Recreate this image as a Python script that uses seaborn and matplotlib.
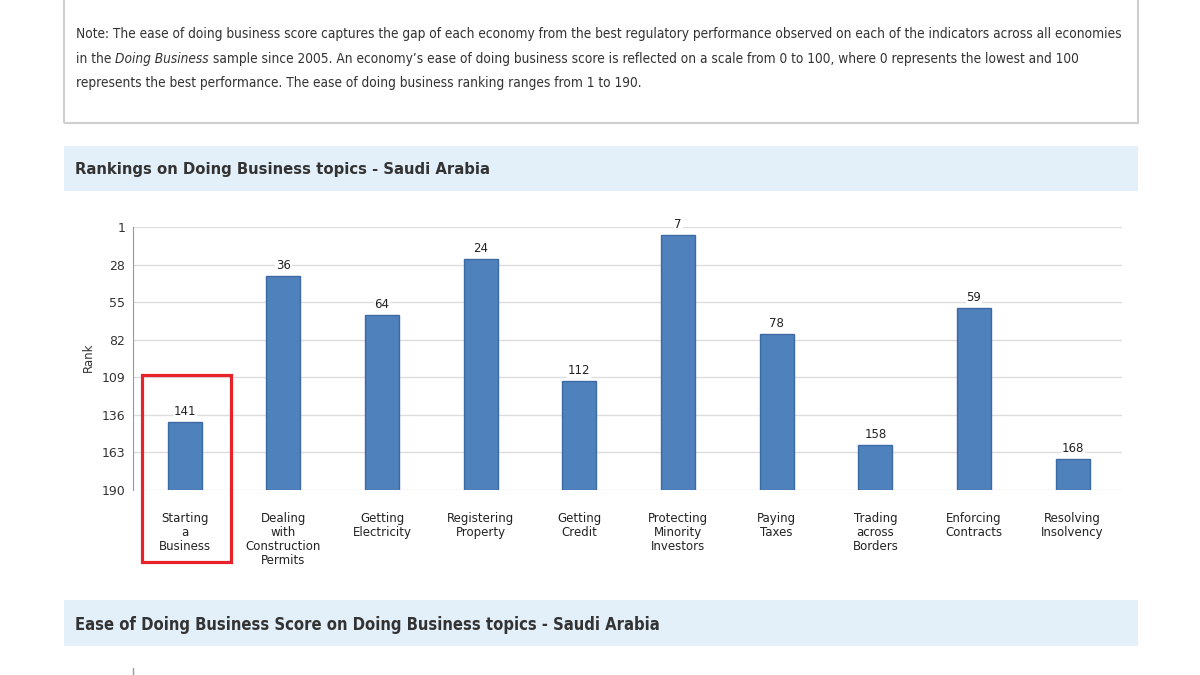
import numpy as np
import pandas as pd
import matplotlib.pyplot as plt
import seaborn as sns
from matplotlib.patches import Rectangle
from matplotlib.lines import Line2D

# datos
topics = ["Starting\na\nBusiness", "Dealing\nwith\nConstruction\nPermits",
          "Getting\nElectricity", "Registering\nProperty", "Getting\nCredit",
          "Protecting\nMinority\nInvestors", "Paying\nTaxes",
          "Trading\nacross\nBorders", "Enforcing\nContracts",
          "Resolving\nInsolvency"]
ranks = [141, 36, 64, 24, 112, 7, 78, 158, 59, 168]
rank_ticks = [1, 28, 55, 82, 109, 136, 163, 190]
worst_rank = 190

note_lines = [
    "Note: The ease of doing business score captures the gap of each economy from the best "
    "regulatory performance observed on each of the indicators across all economies",
    ("in the ", "Doing Business",
     " sample since 2005. An economy\u2019s ease of doing business score is reflected on a "
     "scale from 0 to 100, where 0 represents the lowest and 100"),
    "represents the best performance. The ease of doing business ranking ranges from 1 to 190.",
]
title_1 = "Rankings on Doing Business topics - Saudi Arabia"
title_2 = "Ease of Doing Business Score on Doing Business topics - Saudi Arabia"

W, H = 1200, 675


def fx(x):
    return x / W


def fy(y):
    return 1 - y / H


sns.set_style("white")
plt.rcParams['font.family'] = ['DejaVu Sans']

fig = plt.figure(figsize=(12, 6.75), dpi=100)
renderer = fig.canvas.get_renderer()


def fit(txt, width_px):
    bb = txt.get_window_extent(renderer)
    txt.set_fontsize(txt.get_fontsize() * width_px / bb.width)


# caja de la nota
fig.add_artist(Rectangle((fx(64), fy(123)), fx(1138 - 64), 130 / H,
                         transform=fig.transFigure, fill=False,
                         edgecolor="#cfcfcf", lw=1.5))

note_kw = dict(color="#333333", va="center", fontstretch="condensed")
t1 = fig.text(fx(76), fy(34), note_lines[0], fontsize=10, **note_kw)
fit(t1, 1049)
fs = t1.get_fontsize()
a = fig.text(fx(76), fy(59), note_lines[1][0], fontsize=fs, **note_kw)
x1 = a.get_window_extent(renderer).x1
b = fig.text(x1 / W, fy(59), note_lines[1][1], fontsize=fs, style="italic", **note_kw)
x2 = b.get_window_extent(renderer).x1
fig.text(x2 / W, fy(59), note_lines[1][2], fontsize=fs, **note_kw)
fig.text(fx(76), fy(83), note_lines[2], fontsize=fs, **note_kw)

# cabeceras
for top, bottom, title, wpx in [(146, 191, title_1, 413), (600, 646, title_2, 583)]:
    fig.add_artist(Rectangle((fx(64), fy(bottom)), fx(1138 - 64), (bottom - top) / H,
                             transform=fig.transFigure, facecolor="#e3f0fa",
                             edgecolor="none"))
    t = fig.text(fx(75), fy((top + bottom) / 2 + 1.5), title, fontsize=12,
                 fontweight="bold", fontstretch="condensed", color="#333333",
                 va="center")
    fit(t, wpx)

fig.add_artist(Line2D([fx(133), fx(133)], [fy(668), fy(675)],
                      transform=fig.transFigure, color="#999999", lw=1))

# grafico de barras
ax = fig.add_axes([fx(133), fy(490), fx(1122 - 133), (490 - 227) / H])
df = pd.DataFrame({"topic": topics, "rank": ranks})
df["bar"] = worst_rank - df["rank"]

sns.barplot(data=df, x="topic", y="bar", ax=ax, color="#4f81bd",
            saturation=1, width=0.345, edgecolor="#3c6aa3", linewidth=1)

ax.bar_label(ax.containers[0], labels=[str(r) for r in ranks], padding=3,
             fontsize=8.5, color="#222222",
             bbox=dict(facecolor="white", edgecolor="none", pad=0.5))

ax.set_xlim(-0.525, 9.5)
ax.set_ylim(0, worst_rank - 1)
ax.set_yticks([worst_rank - t for t in rank_ticks])
ax.set_yticklabels([str(t) for t in rank_ticks])
ax.yaxis.grid(True, color="#dddddd", lw=1)
ax.set_axisbelow(True)
ax.tick_params(axis="y", length=5, color="#999999", labelsize=9,
               labelcolor="#333333", pad=0.5)
ax.tick_params(axis="x", length=0, labelsize=8.5, labelcolor="#222222", pad=16)
for lab in ax.get_xticklabels():
    lab.set_linespacing(1.1)
ax.set_xlabel("")
ax.set_ylabel("")
for side in ["top", "right", "bottom"]:
    ax.spines[side].set_visible(False)
ax.spines["left"].set_color("#999999")

fig.text(fx(88), fy(357), "Rank", rotation=90, fontsize=8.5, color="#333333",
         ha="center", va="center")

# recuadro rojo
fig.add_artist(Rectangle((fx(142), fy(562)), fx(231 - 142), (562 - 375) / H,
                         transform=fig.transFigure, fill=False,
                         edgecolor="#e8222b", lw=2.3))

fig.savefig("out.png", dpi=100)
